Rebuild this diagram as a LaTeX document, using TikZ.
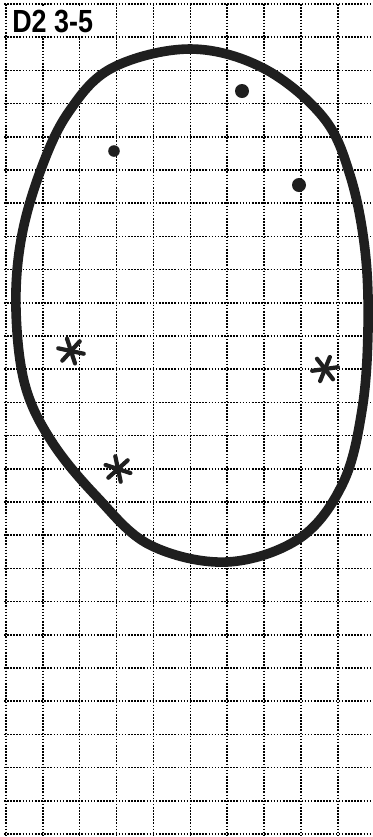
\documentclass[tikz,border=0pt]{standalone}
\usepackage{fontspec}
\setmainfont{Liberation Sans}
\begin{document}
\begin{tikzpicture}[x=0.5pt, y=-0.5pt,
    gridline/.style={line width=0.8pt, dash pattern=on 0.8pt off 0.75pt, black},
    outline/.style={line width=4.8pt, black!88, line join=round},
    starline/.style={line width=2.1pt, line cap=round, black!88},
    title/.style={font=\bfseries\fontsize{16}{16}\selectfont, inner sep=0pt, xscale=0.84}]

    % ── Page ────────────────────────────────────────────────────────────────
    \useasboundingbox (0,0) rectangle (373,837);
    \fill[white] (0,0) rectangle (373,837);

    % ── Dotted grid (10 x 25 cells) ─────────────────────────────────────────
    \foreach \i in {0,...,9}
        \draw[gridline] (5.8+36.9*\i,4) -- (5.8+36.9*\i,835);
    \foreach \j in {0,...,25}
        \draw[gridline] (4,4+33.2*\j) -- (373,4+33.2*\j);

    % ── Label ───────────────────────────────────────────────────────────────
    \fill[white] (7.5,5.5) rectangle (115.5,36.2);
    \node[title, anchor=base west] (label) at (12,32) {D2 3-5};

    % ── Closed outline ──────────────────────────────────────────────────────
    \draw[outline] plot[smooth cycle, tension=0.6] coordinates {
        (190,49) (263,68) (323,117) (350,175) (365,250) (368,330)
        (362,410) (343,483) (300,538) (227,562) (150,545) (97,497)
        (52,442) (25,385) (16,310) (21,240) (40,172) (68,113) (112,68)};

    % ── Dots ────────────────────────────────────────────────────────────────
    \fill[black!88] (242,91) circle (7);
    \fill[black!88] (299,185) circle (7);
    \fill[black!88] (114,151) circle (5.8);

    % ── Asterisks ───────────────────────────────────────────────────────────
    \foreach \x/\y/\r in {71/351/12, 118/469/18, 325/369/-8}
        \foreach \a in {0,60,120}
            \draw[starline, shift={(\x,\y)}] (\a+\r:13) -- (\a+\r+180:13);

\end{tikzpicture}
\end{document}
